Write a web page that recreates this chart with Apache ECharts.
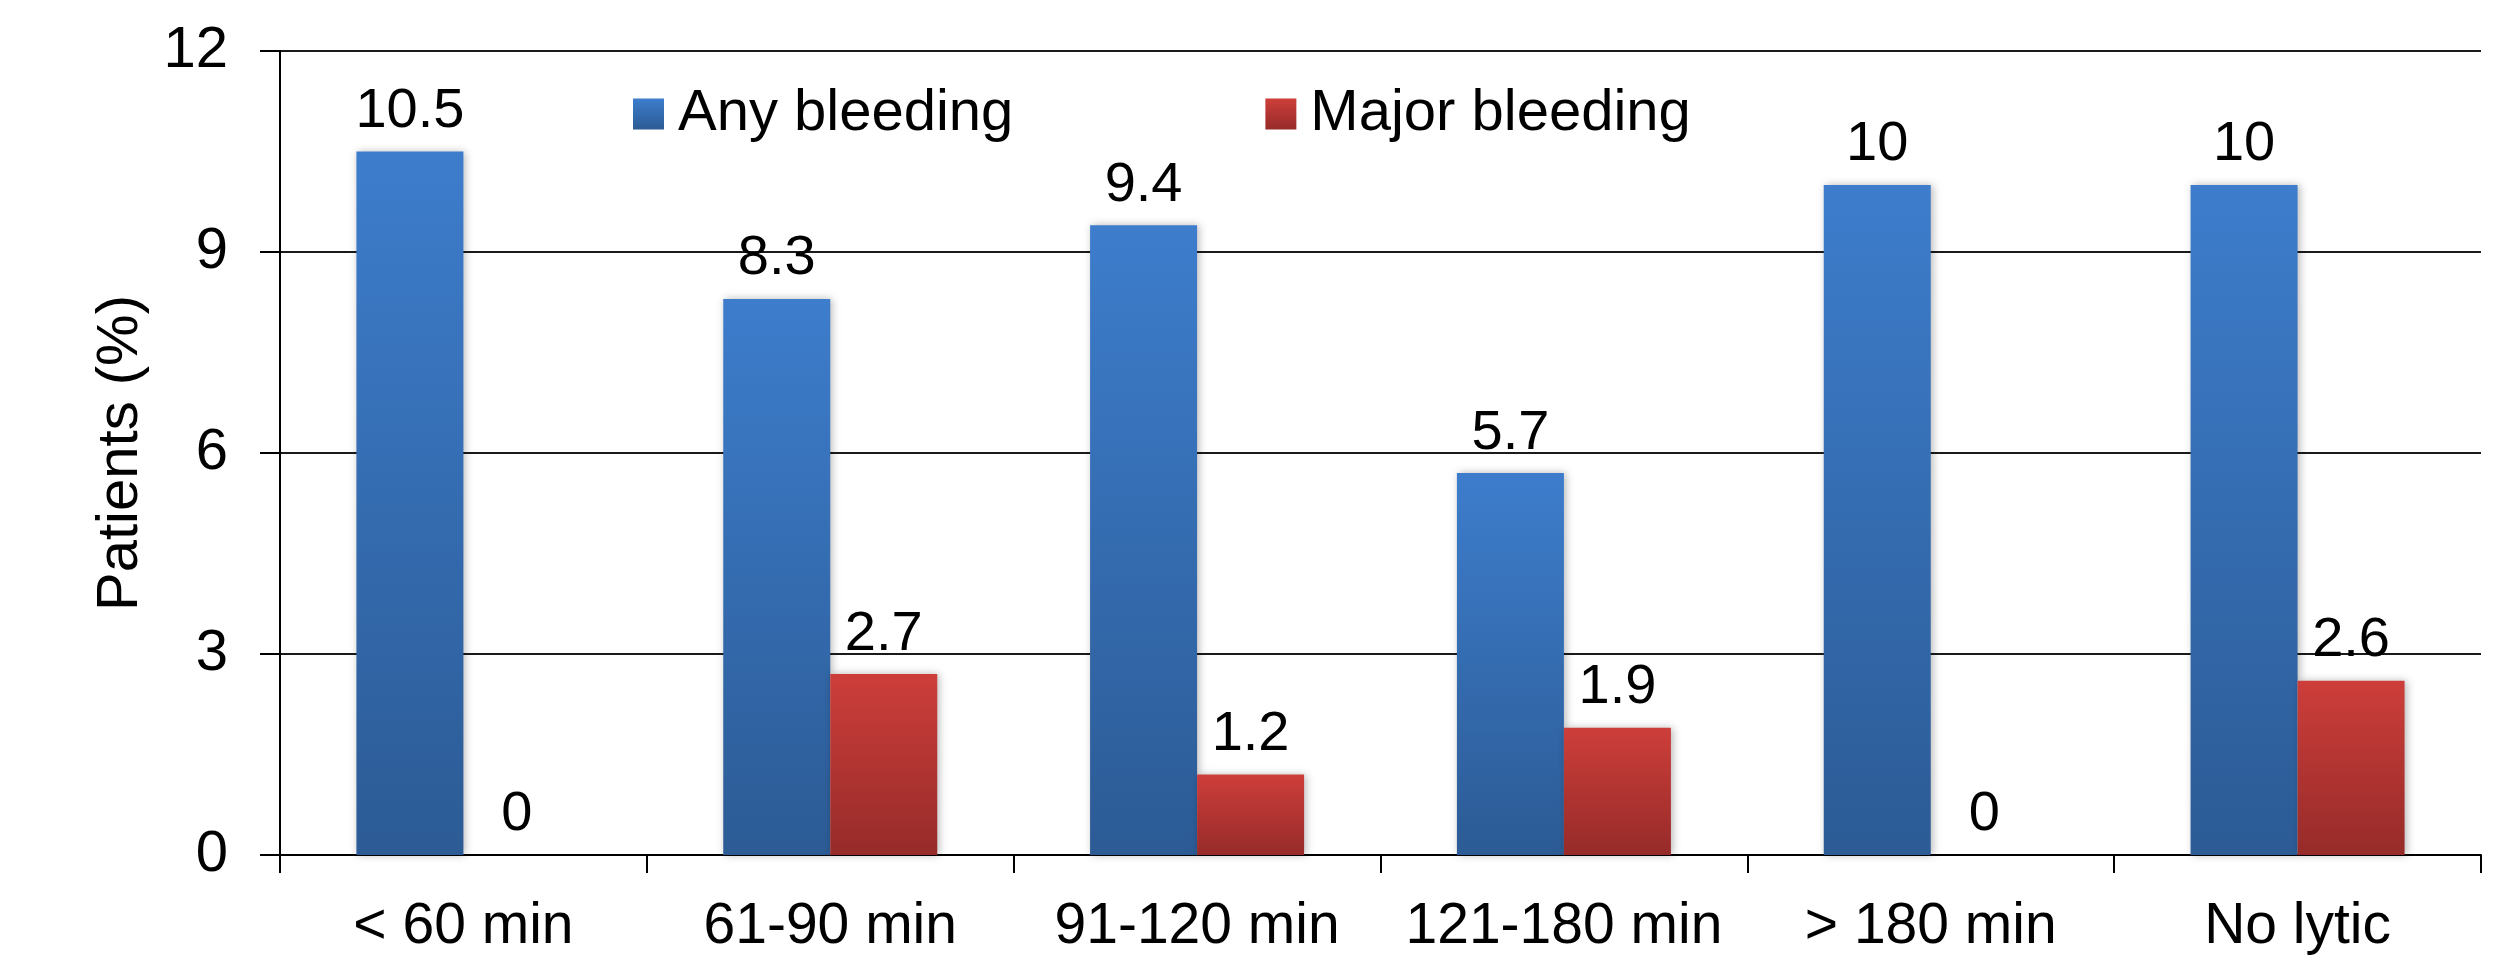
<!DOCTYPE html>
<html>
<head>
<meta charset="utf-8">
<title>Bleeding by time to lytic</title>
<script src="https://cdn.jsdelivr.net/npm/echarts@6/dist/echarts.min.js"></script>
<style>
  html, body { margin: 0; padding: 0; background: #ffffff; }
  #chart { width: 2507px; height: 964px; }
</style>
</head>
<body>
<div id="chart"></div>
<script>
// Categories: time from symptom onset to lytic therapy
const categories = ['< 60 min', '61-90 min', '91-120 min', '121-180 min', '> 180 min', 'No lytic'];

// Percent of patients with bleeding events
const anyBleeding = [10.5, 8.3, 9.4, 5.7, 10, 10];
const majorBleeding = [0, 2.7, 1.2, 1.9, 0, 2.6];

// Value axis ticks
const yMin = 0;
const yMax = 12;
const yStep = 3;

const FONT = '"Liberation Sans", Arial, Helvetica, sans-serif';

function vGrad(top, bottom) {
  return new echarts.graphic.LinearGradient(0, 0, 0, 1, [
    { offset: 0, color: top },
    { offset: 1, color: bottom }
  ]);
}

const blueFill = vGrad('#3d7dcc', '#2c5b95');
const redFill = vGrad('#cd3e3a', '#962b29');

const barShadow = {
  shadowBlur: 8,
  shadowColor: 'rgba(0,0,0,0.28)',
  shadowOffsetX: 2,
  shadowOffsetY: 0
};

const valueLabel = {
  show: true,
  position: 'top',
  distance: 12,
  color: '#000',
  fontFamily: FONT,
  fontSize: 56
};

const chart = echarts.init(document.getElementById('chart'), null, { renderer: 'canvas' });

chart.setOption({
  backgroundColor: '#ffffff',
  animation: false,
  grid: {
    left: 280,
    right: 26,
    top: 51,
    bottom: 109,
    containLabel: false
  },
  legend: {
    left: 628,
    top: 80,
    itemWidth: 31,
    itemHeight: 31,
    itemGap: 252,
    icon: 'rect',
    textStyle: {
      fontFamily: FONT,
      fontSize: 58,
      lineHeight: 58,
      color: '#000',
      padding: [0, 0, 0, 9]
    },
    data: ['Any bleeding', 'Major bleeding']
  },
  xAxis: {
    type: 'category',
    data: categories,
    boundaryGap: true,
    axisLine: { show: true, lineStyle: { color: '#000', width: 2 } },
    axisTick: { show: true, alignWithLabel: false, length: 18, lineStyle: { color: '#000', width: 2 } },
    axisLabel: {
      color: '#000',
      fontFamily: FONT,
      fontSize: 57,
      margin: 44,
      interval: 0
    },
    splitLine: { show: false }
  },
  yAxis: {
    type: 'value',
    min: yMin,
    max: yMax,
    interval: yStep,
    name: 'Patients (%)',
    nameLocation: 'middle',
    nameGap: 130,
    nameRotate: 90,
    nameTextStyle: {
      color: '#000',
      fontFamily: FONT,
      fontSize: 58
    },
    axisLine: { show: true, lineStyle: { color: '#000', width: 2 } },
    axisTick: { show: true, inside: false, length: 20, lineStyle: { color: '#000', width: 2 } },
    axisLabel: {
      color: '#000',
      fontFamily: FONT,
      fontSize: 58,
      margin: 52
    },
    splitLine: { show: true, lineStyle: { color: '#1a1a1a', width: 2 } }
  },
  series: [
    {
      name: 'Any bleeding',
      type: 'bar',
      data: anyBleeding,
      barWidth: 107,
      barGap: '0%',
      itemStyle: Object.assign({ color: blueFill }, barShadow),
      label: valueLabel
    },
    {
      name: 'Major bleeding',
      type: 'bar',
      data: majorBleeding,
      barWidth: 107,
      barGap: '0%',
      itemStyle: Object.assign({ color: redFill }, barShadow),
      label: valueLabel
    }
  ]
});
</script>
</body>
</html>
